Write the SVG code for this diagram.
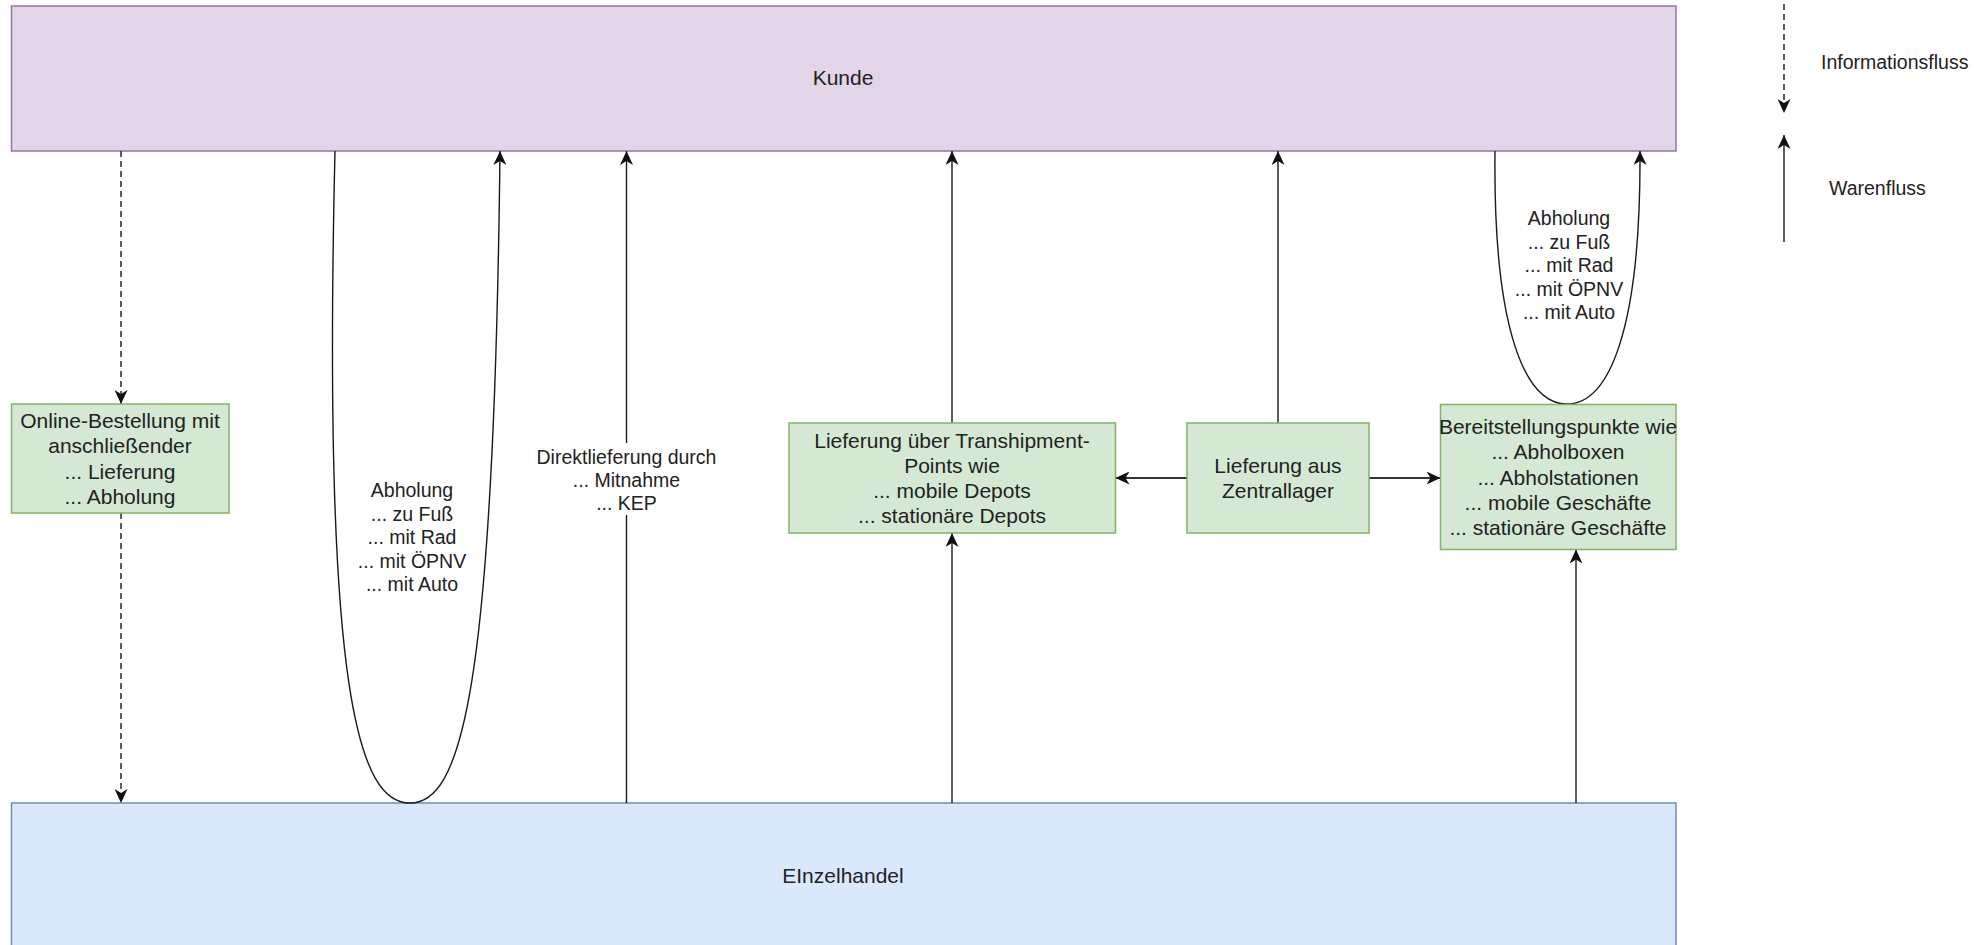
<svg xmlns="http://www.w3.org/2000/svg" width="1974" height="945" viewBox="0 0 1974 945">
  <defs>
    <style>
      text { font-family: "Liberation Sans", Arial, sans-serif; fill: #222; text-anchor: middle; }
      .box-text { font-size: 21px; }
      .label { font-size: 19.5px; }
      .legend { font-size: 19.5px; text-anchor: start; }
      .kunde { fill: #e1d5e7; stroke: #9673a6; stroke-width: 1.5; }
      .handel { fill: #dae8fc; stroke: #6c8ebf; stroke-width: 1.5; }
      .green { fill: #d5e8d4; stroke: #82b366; stroke-width: 1.5; }
      .edge { fill: none; stroke: #1a1a1a; stroke-width: 1.4; }
      .info { stroke-dasharray: 6 4; }
      .thick { stroke-width: 2; stroke: #333; }
    </style>
    <marker id="arrow" viewBox="0 0 14 13" refX="14" refY="6.5" markerWidth="14" markerHeight="13" markerUnits="userSpaceOnUse" orient="auto">
      <path d="M0,0 L14,6.5 L0,13 L4,6.5 Z" fill="#111" stroke="none"/>
    </marker>
  </defs>

  <!-- main swimlanes -->
  <g id="kunde">
    <rect class="kunde" x="11.5" y="6" width="1664.5" height="145"/>
    <text class="box-text" x="843" y="85">Kunde</text>
  </g>
  <g id="einzelhandel">
    <rect class="handel" x="11.5" y="803" width="1664.5" height="145"/>
    <text class="box-text" x="843" y="883">EInzelhandel</text>
  </g>

  <!-- connectors -->
  <g id="connectors">
    <!-- information flow: online order -->
    <line class="edge info" x1="121" y1="151" x2="121" y2="404" marker-end="url(#arrow)"/>
    <line class="edge info" x1="121" y1="513" x2="121" y2="803" marker-end="url(#arrow)"/>
    <!-- pickup loop from retail -->
    <path class="edge" d="M335,151 C322,700 360,803 410,803 C460,803 494,700 500,151" marker-end="url(#arrow)"/>
    <!-- direct delivery -->
    <line class="edge" x1="626.5" y1="803" x2="626.5" y2="151" marker-end="url(#arrow)"/>
    <!-- transhipment points -->
    <line class="edge" x1="952" y1="803" x2="952" y2="533" marker-end="url(#arrow)"/>
    <line class="edge" x1="952" y1="423" x2="952" y2="151" marker-end="url(#arrow)"/>
    <!-- central warehouse -->
    <line class="edge" x1="1278" y1="423" x2="1278" y2="151" marker-end="url(#arrow)"/>
    <line class="edge thick" x1="1187" y1="478" x2="1115.5" y2="478" marker-end="url(#arrow)"/>
    <line class="edge thick" x1="1369" y1="478" x2="1440.5" y2="478" marker-end="url(#arrow)"/>
    <!-- provisioning points -->
    <line class="edge" x1="1576" y1="803" x2="1576" y2="549.5" marker-end="url(#arrow)"/>
    <path class="edge" d="M1495,151 C1493,330 1525,404 1567,404 C1609,404 1641,330 1640,151" marker-end="url(#arrow)"/>
    <!-- legend -->
    <line class="edge info" x1="1784" y1="4" x2="1784" y2="113" marker-end="url(#arrow)"/>
    <line class="edge" x1="1784" y1="242" x2="1784" y2="135" marker-end="url(#arrow)"/>
  </g>

  <!-- intermediate nodes -->
  <g id="online-bestellung">
    <rect class="green" x="11.5" y="404" width="217.5" height="109"/>
    <text class="box-text" x="120" y="428.2">Online-Bestellung mit</text>
    <text class="box-text" x="120" y="453.4">anschließender</text>
    <text class="box-text" x="120" y="478.6">... Lieferung</text>
    <text class="box-text" x="120" y="503.8">... Abholung</text>
  </g>
  <g id="transhipment">
    <rect class="green" x="789" y="423" width="326.5" height="110"/>
    <text class="box-text" x="952" y="447.7">Lieferung über Transhipment-</text>
    <text class="box-text" x="952" y="472.9">Points wie</text>
    <text class="box-text" x="952" y="498.1">... mobile Depots</text>
    <text class="box-text" x="952" y="523.3">... stationäre Depots</text>
  </g>
  <g id="zentrallager">
    <rect class="green" x="1187" y="423" width="182" height="110"/>
    <text class="box-text" x="1278" y="472.9">Lieferung aus</text>
    <text class="box-text" x="1278" y="498.1">Zentrallager</text>
  </g>
  <g id="bereitstellung">
    <rect class="green" x="1440.5" y="404.5" width="235.5" height="145"/>
    <text class="box-text" x="1558" y="434.1">Bereitstellungspunkte wie</text>
    <text class="box-text" x="1558" y="459.3">... Abholboxen</text>
    <text class="box-text" x="1558" y="484.5">... Abholstationen</text>
    <text class="box-text" x="1558" y="509.7">... mobile Geschäfte</text>
    <text class="box-text" x="1558" y="534.9">... stationäre Geschäfte</text>
  </g>

  <!-- edge labels -->
  <g id="label-abholung-links">
    <text class="label" x="412" y="497">Abholung</text>
    <text class="label" x="412" y="520.5">... zu Fuß</text>
    <text class="label" x="412" y="544">... mit Rad</text>
    <text class="label" x="412" y="567.5">... mit ÖPNV</text>
    <text class="label" x="412" y="591">... mit Auto</text>
  </g>
  <g id="label-direktlieferung">
    <rect x="534" y="443" width="185" height="72" fill="#fff"/>
    <text class="label" x="626.5" y="464">Direktlieferung durch</text>
    <text class="label" x="626.5" y="487">... Mitnahme</text>
    <text class="label" x="626.5" y="510">... KEP</text>
  </g>
  <g id="label-abholung-rechts">
    <text class="label" x="1569" y="225">Abholung</text>
    <text class="label" x="1569" y="248.5">... zu Fuß</text>
    <text class="label" x="1569" y="272">... mit Rad</text>
    <text class="label" x="1569" y="295.5">... mit ÖPNV</text>
    <text class="label" x="1569" y="319">... mit Auto</text>
  </g>
  <g id="legend">
    <text class="legend" x="1821" y="69">Informationsfluss</text>
    <text class="legend" x="1829" y="195">Warenfluss</text>
  </g>
</svg>
